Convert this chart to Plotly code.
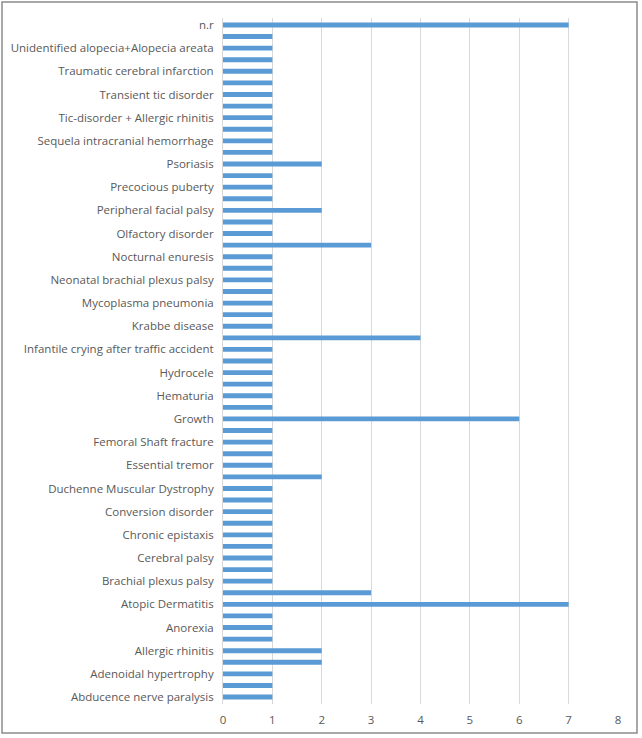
import plotly.graph_objects as go

# Categories from bottom to top; None = unlabeled bar (label hidden in the original)
categories = [
    "Abducence nerve paralysis", None,
    "Adenoidal hypertrophy", None,
    "Allergic rhinitis", None,
    "Anorexia", None,
    "Atopic Dermatitis", None,
    "Brachial plexus palsy", None,
    "Cerebral palsy", None,
    "Chronic epistaxis", None,
    "Conversion disorder", None,
    "Duchenne Muscular Dystrophy", None,
    "Essential tremor", None,
    "Femoral Shaft fracture", None,
    "Growth", None,
    "Hematuria", None,
    "Hydrocele", None,
    "Infantile crying after traffic accident", None,
    "Krabbe disease", None,
    "Mycoplasma pneumonia", None,
    "Neonatal brachial plexus palsy", None,
    "Nocturnal enuresis", None,
    "Olfactory disorder", None,
    "Peripheral facial palsy", None,
    "Precocious puberty", None,
    "Psoriasis", None,
    "Sequela intracranial hemorrhage", None,
    "Tic-disorder + Allergic rhinitis", None,
    "Transient tic disorder", None,
    "Traumatic cerebral infarction", None,
    "Unidentified alopecia+Alopecia areata", None,
    "n.r",
]

values = [
    1, 1,
    1, 2,
    2, 1,
    1, 1,
    7, 3,
    1, 1,
    1, 1,
    1, 1,
    1, 1,
    1, 2,
    1, 1,
    1, 1,
    6, 1,
    1, 1,
    1, 1,
    1, 4,
    1, 1,
    1, 1,
    1, 1,
    1, 3,
    1, 1,
    2, 1,
    1, 1,
    2, 1,
    1, 1,
    1, 1,
    1, 1,
    1, 1,
    1, 1,
    7,
]

x_ticks = [0, 1, 2, 3, 4, 5, 6, 7, 8]

positions = list(range(len(categories)))
tick_pos = [i for i, c in zip(positions, categories) if c is not None]
tick_txt = [c for c in categories if c is not None]

fig = go.Figure(go.Bar(
    x=values, y=positions, orientation="h",
    marker=dict(color="#5B9BD5", line=dict(width=0)),
    width=0.42,
    hoverinfo="x+y",
))

fig.update_layout(
    width=642, height=738,
    margin=dict(l=223, r=23, t=18, b=34),
    paper_bgcolor="white", plot_bgcolor="white",
    showlegend=False,
    font=dict(family="Open Sans, Liberation Sans, sans-serif", size=11.5, color="#595959"),
    xaxis=dict(
        range=[0, 8.02], tickvals=x_ticks, ticktext=[str(t) for t in x_ticks],
        showgrid=True, gridcolor="#D9D9D9", gridwidth=1,
        zeroline=False, showline=False,
        ticks="outside", ticklen=5, tickcolor="rgba(0,0,0,0)",
        tickfont=dict(size=11.5, color="#595959"),
    ),
    yaxis=dict(
        range=[-0.6, len(categories) - 0.4],
        tickvals=tick_pos, ticktext=tick_txt,
        showgrid=False, zeroline=False,
        showline=True, linecolor="#D9D9D9", linewidth=1,
        ticks="outside", ticklen=6, tickcolor="rgba(0,0,0,0)",
        tickfont=dict(size=11.5, color="#595959"),
    ),
    shapes=[dict(
        type="rect", xref="paper", yref="paper",
        x0=(2 - 223) / 396, x1=(637 - 223) / 396,
        y0=-(733 - 704) / 686, y1=1 + (18 - 2) / 686,
        line=dict(color="#8C8C8C", width=1.5), fillcolor="rgba(0,0,0,0)",
        layer="below",
    )],
)

fig.write_html("out.html")
